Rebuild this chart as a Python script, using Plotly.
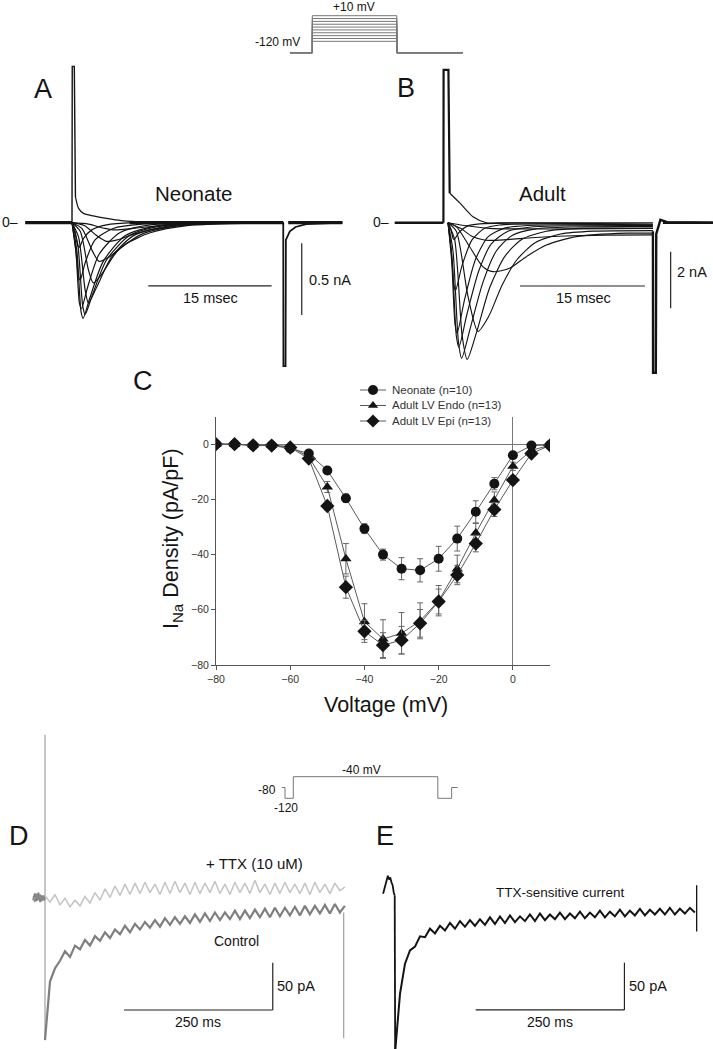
import numpy as np
import plotly.graph_objects as go

W, H = 713, 1049
FONT = "Liberation Sans, Arial, sans-serif"

# ---------------- Panel C : I-V relation ----------------
voltage_mv = [-80, -75, -70, -65, -60, -55, -50, -45, -40, -35, -30, -25, -20, -15, -10, -5, 0, 5, 10]
neonate_density = [0, 0, -0.5, -0.5, -1.5, -3.4, -9.5, -19.6, -30.6, -40, -45.1, -45.7, -41.5, -34.2, -24.5, -14.3, -4, -0.5, -0.3]
neonate_sem = [0.3, 0.3, 0.3, 0.3, 0.5, 0.8, 1.2, 1.5, 1.8, 2, 4, 4.2, 4.5, 4.5, 4, 2.2, 1, 0.5, 0.3]
endo_density = [0, 0, -0.3, -0.4, -0.8, -4.6, -15.5, -41.5, -64.3, -70.6, -68.5, -64, -56.7, -45.2, -32.2, -20.3, -8, -2.2, -0.4]
endo_sem = [0.3, 0.3, 0.3, 0.3, 0.5, 1, 2, 5.5, 6.5, 7, 7.5, 6.5, 5.5, 5, 3.5, 3, 1.5, 0.5, 0.3]
epi_density = [0, 0, -0.4, -0.5, -1.2, -5.2, -22.4, -51.8, -67.8, -72.8, -71, -64.9, -57, -47.4, -36, -23.7, -13, -3.4, -0.4]
epi_sem = [0.3, 0.3, 0.3, 0.3, 0.5, 1, 1.5, 4, 4, 4.5, 5, 5, 4.5, 3.5, 3, 2.5, 1.5, 0.5, 0.3]
series_names = ["Neonate (n=10)", "Adult LV Endo (n=13)", "Adult LV Epi (n=13)"]
c_ticks = [-80, -60, -40, -20, 0]

# ---------------- Panel A : neonate sweeps (ms, nA) ----------------
neo_t = [
    [0, 2, 4, 5, 6.5, 9, 13, 18, 25.7],
    [0, 1.5, 3, 4.2, 5.5, 7.5, 10.5, 15, 25.7],
    [0, 1.2, 2.5, 3.3, 4.5, 6.5, 9.5, 14, 25.7],
    [0, 1, 2, 2.6, 3.6, 5.5, 8.5, 13, 25.7],
    [0, 0.8, 1.6, 2.0, 3.0, 4.8, 7.5, 12, 25.7],
    [0, 0.7, 1.3, 1.6, 2.5, 4.2, 7, 11, 25.7],
    [0, 0.6, 1.1, 1.35, 2.2, 3.8, 6.5, 10.5, 25.7],
    [0, 0.5, 0.9, 1.15, 1.9, 3.3, 5.8, 9.5, 25.7],
    [0, 0.45, 0.8, 1.0, 1.6, 2.8, 5, 8.5, 25.7],
    [0, 0.4, 0.7, 0.9, 1.4, 2.4, 4.2, 7.5, 25.7],
    [0.42, 0.8, 1.4, 2.6, 4.2, 6, 9, 25.7],
]
neo_i = [
    [0, -0.01, -0.04, -0.05, -0.045, -0.03, -0.015, -0.005, 0],
    [0, -0.02, -0.09, -0.13, -0.12, -0.08, -0.04, -0.01, 0],
    [0, -0.04, -0.2, -0.27, -0.24, -0.15, -0.07, -0.02, 0],
    [0, -0.06, -0.33, -0.42, -0.36, -0.2, -0.08, -0.02, 0],
    [0, -0.1, -0.47, -0.56, -0.45, -0.24, -0.09, -0.02, 0],
    [0, -0.15, -0.58, -0.64, -0.5, -0.26, -0.09, -0.02, 0],
    [0, -0.2, -0.62, -0.667, -0.52, -0.27, -0.09, -0.02, 0],
    [0, -0.22, -0.56, -0.6, -0.45, -0.22, -0.07, -0.015, 0],
    [0, -0.18, -0.38, -0.4, -0.28, -0.12, -0.04, -0.01, 0],
    [0, -0.07, -0.16, -0.17, -0.11, -0.05, -0.015, 0, 0],
    [0.18, 0.1, 0.065, 0.047, 0.03, 0.015, 0.005, 0],
]
neo_spike_t = [0, 0.03, 0.28, 0.42]
neo_spike_i = [0, 1.09, 1.09, 0.18]
neo_tail_t = [25.7, 25.72, 25.98, 26.02, 26.5, 27.2, 28.5, 32.9]
neo_tail_i = [0, -1.0, -1.0, -0.12, -0.06, -0.03, -0.01, 0]
neo_base_t = [-5.7, 0, None, 7, 25.7, None, 26.3, 32.9]
neo_base_i = [0, 0, None, 0, 0, None, 0, 0]

# ---------------- Panel B : adult sweeps (ms, nA) ----------------
adult_t = [
    [0, 2, 5, 9, 15, 24.6],
    [0, 1.5, 3, 4.5, 7, 10, 14, 19, 24.6],
    [0, 1.0, 2.6, 4.2, 5.4, 7.4, 9.4, 11.8, 15.4, 21.5, 24.6],
    [0, 1.0, 2.4, 3.6, 4.9, 6.5, 8.3, 10.5, 13.5, 17.5, 24.6],
    [0, 0.8, 1.7, 2.3, 3.4, 5.0, 6.8, 8.8, 11.8, 16, 24.6],
    [0, 0.6, 1.25, 1.64, 2.7, 4.2, 5.8, 7.7, 10.5, 15, 24.6],
    [0, 0.5, 1.0, 1.3, 2.3, 3.7, 5.2, 7.2, 10, 24.6],
    [0, 0.45, 0.85, 1.1, 2.0, 3.3, 4.8, 6.7, 9.5, 24.6],
    [0, 0.4, 0.7, 0.9, 1.7, 2.9, 4.4, 6.2, 24.6],
    [0, 0.35, 0.6, 0.75, 1.3, 2.3, 3.8, 24.6],
    [0.22, 1.44, 3.0, 4.6, 7, 24.6],
]
adult_i = [
    [0, -0.1, -0.2, -0.22, -0.22, -0.2],
    [0, -0.2, -0.5, -0.62, -0.6, -0.53, -0.47, -0.44, -0.43],
    [0, -0.14, -0.85, -1.56, -1.73, -1.61, -1.2, -0.79, -0.49, -0.37, -0.37],
    [0, -0.3, -2.6, -3.84, -3.3, -2.2, -1.3, -0.7, -0.4, -0.3, -0.28],
    [0, -0.6, -4.0, -4.83, -3.9, -2.3, -1.2, -0.6, -0.3, -0.2, -0.2],
    [0, -1.0, -4.2, -4.79, -3.7, -2.1, -1.0, -0.45, -0.22, -0.15, -0.14],
    [0, -1.3, -4.0, -4.4, -3.2, -1.7, -0.75, -0.3, -0.15, -0.1],
    [0, -1.4, -3.6, -3.9, -2.7, -1.3, -0.5, -0.2, -0.1, -0.08],
    [0, -1.0, -2.2, -2.4, -1.5, -0.6, -0.2, -0.08, -0.08],
    [0, -0.25, -0.55, -0.6, -0.35, -0.12, -0.04, -0.05],
    [1.04, 0.69, 0.21, 0, 0, 0],
]
adult_spike_t = [-0.55, -0.53, 0.05, 0.2]
adult_spike_i = [0, 5.4, 5.4, 1.04]
adult_tail_t = [24.6, 24.62, 24.95, 25.0, 25.5, 26.3, 31.8]
adult_tail_i = [-0.3, -5.3, -5.3, -0.4, 0.1, 0.02, 0]
adult_base_t = [-6.4, -0.55, None, 25.8, 31.8]
adult_base_i = [0, 0, None, 0, 0]

# ---------------- Voltage protocols ----------------
step_levels_mv = [-80, -70, -60, -50, -40, -30, -20, -10, 0, 10]
holding_mv = -120
step_times_ms = [-6.6, 0, 0, 25, 25, 44.5]

ramp_prot_t = [-39, -28.7, -28.7, 0, 0, 500, 500, 548, 548, 569]
ramp_prot_v = [-80, -80, -120, -120, -40, -40, -120, -120, -80, -80]

# ---------------- Panel D : control vs TTX (ms, pA) ----------------
sample_t = np.arange(61) * 8.4
pre_t = [-20, -17, -14, -11, -8, -5, -2, 0]
ttx_pre = [2, -4, 5, -2, 4, -3, 3, 0]
ctrl_pre = [-2, 5, -3, 6, -4, 3, -2, 0]
ttx_pa = [3, -4, 4, -7, 0, -9, -2, -8, 2, -5, 6, -2, 10, 1, 13, 3, 15, 4, 16, 5,
          17, 6, 15, 4, 17, 5, 18, 6, 16, 4, 17, 5, 16, 6, 18, 5, 15, 4, 17, 6,
          16, 5, 19, 6, 15, 4, 16, 5, 17, 6, 15, 5, 16, 4, 17, 6, 15, 5, 16, 8, 12]
ctrl_pa = [-150, -88, -74, -66, -56, -62, -50, -54, -44, -50, -40, -45, -36, -42, -33, -38, -29, -36, -27, -33,
           -25, -31, -23, -30, -21, -28, -20, -27, -19, -26, -17, -25, -16, -24, -15, -23, -15, -22, -13, -22,
           -13, -21, -12, -20, -11, -20, -10, -19, -10, -18, -9, -18, -8, -17, -8, -16, -7, -16, -6, -15, -8]
d_on_t, d_on_i = [0, 0], [173, -148]
d_off_t, d_off_i = [502, 502], [-15, -148]

# ---------------- Panel E : TTX-sensitive current (ms, pA) ----------------
e_pre_t = [-20, -18, -16, -14, -12, -10, -8, -6, -4, -2, -0.5]
e_pre = [-6, -1, 4, 8, 13, 9, 11, 6, 3, -5, -8]
e_pa = [-175, -112, -80, -66, -62, -51, -52, -43, -48, -40, -45, -37, -43, -35, -41, -34, -40, -33, -39, -31,
        -38, -30, -37, -29, -36, -30, -35, -28, -35, -27, -34, -28, -33, -26, -33, -27, -32, -25, -32, -26,
        -31, -24, -31, -25, -30, -23, -30, -24, -29, -22, -29, -23, -28, -22, -28, -21, -28, -22, -27, -21, -26]
e_end_t, e_end_i = [507, 507], [3, -46]


# ---------------- helpers (layout geometry) ----------------
def xdom(p0, p1):
    return [p0 / W, p1 / W]


def ydom(p0, p1):
    return [1 - p1 / H, 1 - p0 / H]


def rng(p0, p1, origin, scale):
    return [(p0 - origin) / scale, (p1 - origin) / scale]


def rngy(ptop, pbot, origin, scale):
    return [(origin - pbot) / scale, (origin - ptop) / scale]


def hidden(domain, r, anchor):
    return dict(domain=domain, range=r, visible=False, anchor=anchor, fixedrange=True)


fig = go.Figure()
BLACK = "#141414"

# Panel A traces
fig.add_trace(go.Scatter(x=neo_base_t, y=neo_base_i, xaxis="x2", yaxis="y2", mode="lines",
                         line=dict(color=BLACK, width=3.2), hoverinfo="skip"))
for t, i in zip(neo_t, neo_i):
    fig.add_trace(go.Scatter(x=t, y=i, xaxis="x2", yaxis="y2", mode="lines",
                             line=dict(color=BLACK, width=1.2, shape="spline", smoothing=0.7)))
fig.add_trace(go.Scatter(x=neo_spike_t, y=neo_spike_i, xaxis="x2", yaxis="y2", mode="lines",
                         line=dict(color=BLACK, width=1.4)))
fig.add_trace(go.Scatter(x=neo_tail_t, y=neo_tail_i, xaxis="x2", yaxis="y2", mode="lines",
                         line=dict(color=BLACK, width=1.8)))

# Panel B traces
fig.add_trace(go.Scatter(x=adult_base_t, y=adult_base_i, xaxis="x3", yaxis="y3", mode="lines",
                         line=dict(color=BLACK, width=2.5)))
for t, i in zip(adult_t, adult_i):
    fig.add_trace(go.Scatter(x=t, y=i, xaxis="x3", yaxis="y3", mode="lines",
                             line=dict(color=BLACK, width=1.15, shape="spline", smoothing=0.7)))
fig.add_trace(go.Scatter(x=adult_spike_t, y=adult_spike_i, xaxis="x3", yaxis="y3", mode="lines",
                         line=dict(color=BLACK, width=2.2)))
fig.add_trace(go.Scatter(x=adult_tail_t, y=adult_tail_i, xaxis="x3", yaxis="y3", mode="lines",
                         line=dict(color=BLACK, width=2.4)))

# Top step protocol
for v in step_levels_mv:
    fig.add_trace(go.Scatter(x=step_times_ms, y=[holding_mv, holding_mv, v, v, holding_mv, holding_mv],
                             xaxis="x4", yaxis="y4", mode="lines", line=dict(color="#777", width=1)))

# D protocol
fig.add_trace(go.Scatter(x=ramp_prot_t, y=ramp_prot_v, xaxis="x5", yaxis="y5", mode="lines",
                         line=dict(color="#777", width=1)))

# Panel D traces
fig.add_trace(go.Scatter(x=d_on_t, y=d_on_i, xaxis="x6", yaxis="y6", mode="lines",
                         line=dict(color="#a0a0a0", width=1.2)))
fig.add_trace(go.Scatter(x=d_off_t, y=d_off_i, xaxis="x6", yaxis="y6", mode="lines",
                         line=dict(color="#a0a0a0", width=1.2)))
fig.add_trace(go.Scatter(x=pre_t, y=ctrl_pre, xaxis="x6", yaxis="y6", mode="lines",
                         line=dict(color="#7f7f7f", width=1.8)))
fig.add_trace(go.Scatter(x=pre_t, y=ttx_pre, xaxis="x6", yaxis="y6", mode="lines",
                         line=dict(color="#8a8a8a", width=1.3)))
fig.add_trace(go.Scatter(x=sample_t, y=ttx_pa, xaxis="x6", yaxis="y6", mode="lines",
                         line=dict(color="#c4c4c4", width=1.5)))
fig.add_trace(go.Scatter(x=sample_t, y=ctrl_pa, xaxis="x6", yaxis="y6", mode="lines",
                         line=dict(color="#7f7f7f", width=2.2)))

# Panel E traces
fig.add_trace(go.Scatter(x=e_pre_t, y=e_pre, xaxis="x7", yaxis="y7", mode="lines",
                         line=dict(color=BLACK, width=1.8)))
fig.add_trace(go.Scatter(x=[e_pre_t[-1], 0.3], y=[e_pre[-1], e_pa[0]], xaxis="x7", yaxis="y7", mode="lines",
                         line=dict(color=BLACK, width=1.8)))
fig.add_trace(go.Scatter(x=sample_t, y=e_pa, xaxis="x7", yaxis="y7", mode="lines",
                         line=dict(color=BLACK, width=2)))
fig.add_trace(go.Scatter(x=e_end_t, y=e_end_i, xaxis="x7", yaxis="y7", mode="lines",
                         line=dict(color=BLACK, width=1.3)))

# Panel C traces
c_series = [
    (endo_density, endo_sem, "triangle-up", 10),
    (epi_density, epi_sem, "diamond", 11),
    (neonate_density, neonate_sem, "circle", 10),
]
for dens, sem, sym, sz in c_series:
    fig.add_trace(go.Scatter(
        x=voltage_mv, y=dens, mode="lines+markers", xaxis="x", yaxis="y",
        line=dict(color="#5a5a5a", width=1),
        marker=dict(symbol=sym, size=sz, color=BLACK),
        error_y=dict(type="data", array=sem, color="#666", thickness=1, width=3)))

# Panel C legend keys (own pixel-space axes)
leg_rows = [390, 405.5, 421]
leg_syms = [("circle", 10), ("triangle-up", 9), ("diamond", 10)]
for row, (sym, sz) in zip(leg_rows, leg_syms):
    fig.add_trace(go.Scatter(x=[360, 386], y=[row, row], xaxis="x8", yaxis="y8",
                             mode="lines", line=dict(color="#5a5a5a", width=1)))
    fig.add_trace(go.Scatter(x=[373], y=[row], xaxis="x8", yaxis="y8",
                             mode="markers", marker=dict(symbol=sym, size=sz, color=BLACK)))

# ---------------- layout ----------------
axis_font = dict(family=FONT, size=10.5, color="#333333")
layout = dict(
    template="none",
    width=W, height=H, autosize=False, margin=dict(l=0, r=0, t=0, b=0, pad=0),
    paper_bgcolor="white", plot_bgcolor="rgba(0,0,0,0)", showlegend=False,
    font=dict(family=FONT, color=BLACK),
    xaxis=dict(domain=xdom(216, 550), range=[-80, 10], anchor="y", tickvals=c_ticks,
               ticks="outside", ticklen=4, tickcolor="#555", showline=True, linecolor="#555",
               linewidth=1, showgrid=False, zeroline=True, zerolinecolor="#777", zerolinewidth=1,
               tickfont=axis_font, fixedrange=True),
    yaxis=dict(domain=ydom(416.6, 665), range=[-80, 10], anchor="x", tickvals=c_ticks,
               ticks="outside", ticklen=4, tickcolor="#555", showline=True, linecolor="#555",
               linewidth=1, showgrid=False, zeroline=True, zerolinecolor="#777", zerolinewidth=1,
               tickfont=axis_font, fixedrange=True),
    xaxis2=hidden(xdom(20, 355), rng(20, 355, 72, 8.22), "y2"),
    yaxis2=hidden(ydom(60, 380), rngy(60, 380, 222.7, 143.4), "x2"),
    xaxis3=hidden(xdom(380, 713), rng(380, 713, 448, 8.33), "y3"),
    yaxis3=hidden(ydom(60, 380), rngy(60, 380, 222.7, 28.3), "x3"),
    xaxis4=hidden(xdom(285, 470), rng(285, 470, 312.3, 3.38), "y4"),
    yaxis4=hidden(ydom(10, 58), rngy(10, 58, 18.55, 0.2846), "x4"),
    xaxis5=hidden(xdom(275, 465), rng(275, 465, 293.3, 0.289), "y5"),
    yaxis5=hidden(ydom(765, 805), rngy(765, 805, 765.9, 0.27), "x5"),
    xaxis6=hidden(xdom(20, 360), rng(20, 360, 45, 0.595), "y6"),
    yaxis6=hidden(ydom(700, 1045), rngy(700, 1045, 898.3, 0.946), "x6"),
    xaxis7=hidden(xdom(370, 713), rng(370, 713, 395, 0.595), "y7"),
    yaxis7=hidden(ydom(860, 1049), rngy(860, 1049, 888, 0.946), "x7"),
    xaxis8=hidden(xdom(350, 400), [350, 400], "y8"),
    yaxis8=hidden(ydom(380, 430), [430, 380], "x8"),
)
fig.update_layout(**layout)

# scale bars (in each panel's data units)
bar = dict(color="#222", width=1.2)
scale_bars = [
    ("x2", "y2", 9.28, -0.441, 9.28 + 15, -0.441),
    ("x2", "y2", 27.95, -0.144, 27.95, -0.644),
    ("x3", "y3", 8.64, -2.237, 8.64 + 15, -2.237),
    ("x3", "y3", 26.73, -1.025, 26.73, -3.025),
    ("x6", "y6", 132.8, -118.1, 132.8 + 250, -118.1),
    ("x6", "y6", 382.8, -118.1, 382.8, -68.1),
    ("x7", "y7", 135.6, -128.9, 135.6 + 250, -128.9),
    ("x7", "y7", 385.6, -128.9, 385.6, -78.9),
]
for xr, yr, x0, y0, x1, y1 in scale_bars:
    fig.add_shape(type="line", xref=xr, yref=yr, x0=x0, y0=y0, x1=x1, y1=y1, line=bar)


def ann(text, x, y, size, xanchor="center", color=BLACK, angle=0):
    fig.add_annotation(text=text, x=x / W, y=1 - y / H, xref="paper", yref="paper",
                       xanchor=xanchor, yanchor="middle", showarrow=False, textangle=angle,
                       font=dict(family=FONT, size=size, color=color))


for lab, x, y in [("A", 43, 89), ("B", 406, 88), ("C", 143, 381), ("D", 19, 836), ("E", 385, 836)]:
    ann(lab, x, y, 27)
ann("Neonate", 194, 193, 20.5)
ann("Adult", 542, 193, 20.5)
ann("0–", 0, 222, 14, "left")
ann("0–", 371, 222, 14, "left")
ann("15 msec", 210, 298, 14.5)
ann("15 msec", 583, 298, 14.5)
ann("0.5 nA", 307, 280, 14.5, "left")
ann("2 nA", 675, 272, 14.5, "left")
ann("+10 mV", 354, 7, 12)
ann("-120 mV", 302, 42, 12, "right")
ann("-40 mV", 361, 770, 12)
ann("-80", 278, 790, 12, "right")
ann("-120", 286, 808, 12)
ann("+ TTX (10 uM)", 254, 863, 15)
ann("Control", 236, 941, 14)
ann("50 pA", 275, 986, 14.5, "left")
ann("50 pA", 627, 986, 14.5, "left")
ann("250 ms", 198, 1022, 14)
ann("250 ms", 550, 1022, 14)
ann("TTX-sensitive current", 560, 892, 13.5)
ann("Voltage (mV)", 386, 705, 21.5)
ann("I<sub>Na</sub> Density (pA/pF)", 172, 539, 21.5, angle=-90)
for row, name in zip(leg_rows, series_names):
    ann(name, 390, row, 11.5, "left", color="#333333")

fig.write_html("out.html", config={"displayModeBar": False},
               post_script="document.body.style.margin='0px';document.body.style.overflow='hidden';")
